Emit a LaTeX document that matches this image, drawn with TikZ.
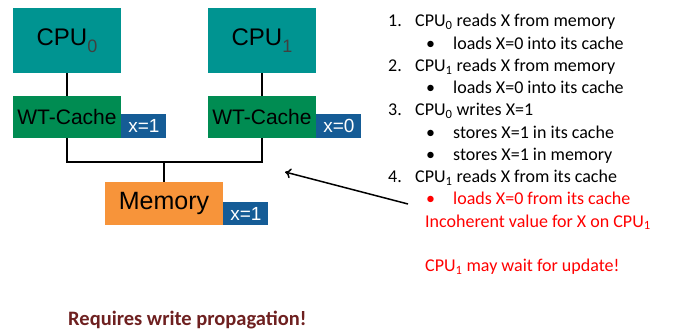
\documentclass[tikz,border=0pt]{standalone}
\usepackage{fontspec}
\setmainfont{Carlito}
\newfontfamily\arialfont{Liberation Sans}
\usetikzlibrary{arrows.meta}
\definecolor{cputeal}{RGB}{0,148,145}
\definecolor{cachegreen}{RGB}{0,140,82}
\definecolor{valblue}{RGB}{21,92,150}
\definecolor{memorange}{RGB}{247,148,58}
\definecolor{darkred}{RGB}{110,32,32}
\newcommand{\cpusub}[1]{\raisebox{-7pt}{\fontsize{18}{20}\selectfont\textcolor{darkgray}{#1}}}

\begin{document}
\begin{tikzpicture}[x=1pt, y=-1pt,
  cpubox/.style={rectangle, fill=cputeal, minimum width=108pt, minimum height=65pt, inner sep=0pt, font=\arialfont\fontsize{24}{28}\selectfont},
  cachebox/.style={rectangle, fill=cachegreen, minimum width=108pt, minimum height=42pt, inner sep=0pt, font=\arialfont\fontsize{21}{24}\selectfont},
  membox/.style={rectangle, fill=memorange, minimum width=118pt, minimum height=43pt, inner sep=0pt, font=\arialfont\fontsize{25}{28}\selectfont},
  valbox/.style={rectangle, fill=valblue, text=white, minimum width=45pt, minimum height=24pt, inner sep=0pt, font=\arialfont\fontsize{19}{20}\selectfont},
  wire/.style={line width=2.5pt},
  line/.style={anchor=base west, inner sep=0pt, font=\fontsize{18}{22}\selectfont},
  redline/.style={line, text=red}]
\useasboundingbox (0,0) rectangle (673,331);

\node[cpubox] (cpu0) at (67,40.5) {CPU\cpusub{0}};
\node[cpubox] (cpu1) at (262,40.5) {CPU\cpusub{1}};
\node[cachebox] (wt0) at (67,117) {\raisebox{-5pt}{WT-Cache}};
\node[cachebox] (wt1) at (262,117) {\raisebox{-5pt}{WT-Cache}};
\node[valbox, anchor=south west] (val0) at (wt0.south east) {x=1};
\node[valbox, anchor=south west] (val1) at (wt1.south east) {x=0};
\node[membox] (mem) at (164,203.5) {Memory};
\node[valbox, anchor=south west, minimum height=23pt] (valm) at (mem.south east) {x=1};
\coordinate (bus) at (164,162);

\draw[wire] (cpu0)--(wt0);
\draw[wire] (cpu1)--(wt1);
\draw[wire] (wt0.south) |- (bus) -| (wt1.south);
\draw[wire] (bus)--(mem);

\node[line] (n1) at (388,27) {1.};
\node[line] (s1) at (415,27) {CPU\textsubscript{0} reads X from memory};
\node[line] (b1) at (426,49.25) {\textbullet};
\node[line] (t1) at (453,49.25) {loads X=0 into its cache};
\node[line] (n2) at (388,71.5) {2.};
\node[line] (s2) at (415,71.5) {CPU\textsubscript{1} reads X from memory};
\node[line] (b2) at (426,93.75) {\textbullet};
\node[line] (t2) at (453,93.75) {loads X=0 into its cache};
\node[line] (n3) at (388,116) {3.};
\node[line] (s3) at (415,116) {CPU\textsubscript{0} writes X=1};
\node[line] (b3) at (426,138.25) {\textbullet};
\node[line] (t3) at (453,138.25) {stores X=1 in its cache};
\node[line] (b4) at (426,160.5) {\textbullet};
\node[line] (t4) at (453,160.5) {stores X=1 in memory};
\node[line] (n4) at (388,182.75) {4.};
\node[line] (s4) at (415,182.75) {CPU\textsubscript{1} reads X from its cache};
\node[redline] (b5) at (426,205) {\textbullet};
\node[redline] (t5) at (453,205) {loads X=0 from its cache};
\node[redline] (r1) at (425,227.25) {Incoherent value for X on CPU\textsubscript{1}};
\node[redline] (r2) at (425,271.75) {CPU\textsubscript{1} may wait for update!};

\node[line, text=darkred, font=\bfseries\fontsize{20.5}{24}\selectfont] (req) at (68,326) {Requires write propagation!};

\coordinate (from) at (408,204);
\coordinate (to) at (285,172);
\draw[line width=1.5pt, -{To[length=6pt, width=10pt]}] (from)--(to);
\end{tikzpicture}
\end{document}
